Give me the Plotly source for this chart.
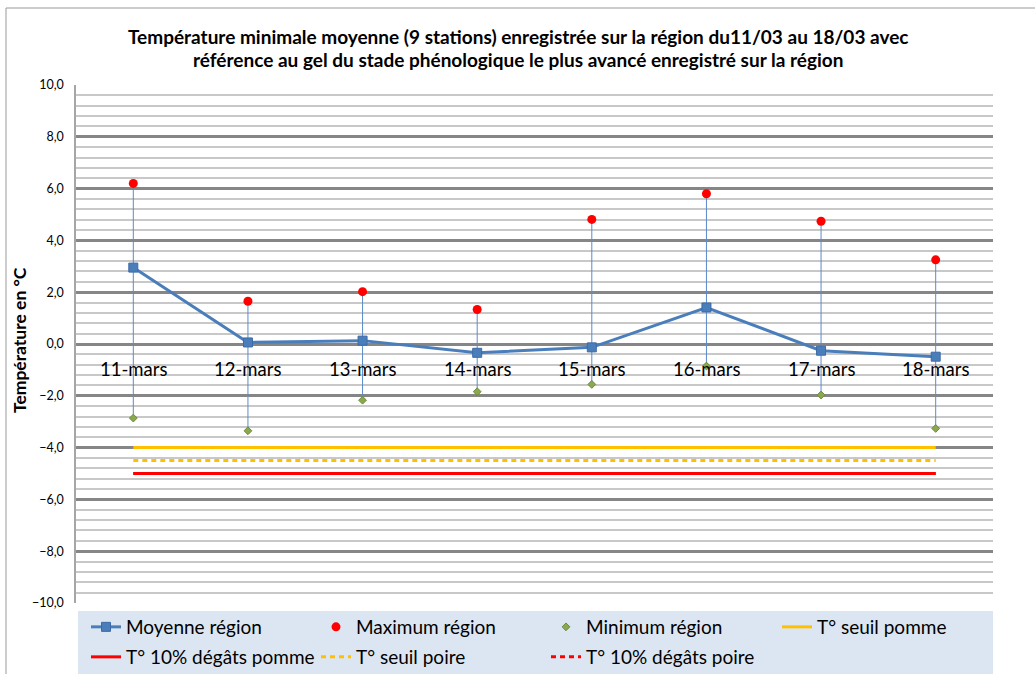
import plotly.graph_objects as go

# ---- data ----
dates = ["11-mars", "12-mars", "13-mars", "14-mars", "15-mars", "16-mars", "17-mars", "18-mars"]
moyenne = [2.95, 0.06, 0.13, -0.34, -0.13, 1.41, -0.26, -0.49]
maximum = [6.2, 1.65, 2.02, 1.33, 4.81, 5.8, 4.74, 3.25]
minimum = [-2.86, -3.35, -2.17, -1.84, -1.56, -0.85, -1.97, -3.26]
seuil_pomme = -4.0
degats_pomme = -5.0
seuil_poire = -4.5
degats_poire = -5.0

title_lines = [
    "Température minimale moyenne (9 stations) enregistrée sur la région du11/03 au 18/03 avec",
    "référence au gel du stade phénologique le plus avancé enregistré sur la région",
]
y_title = "Température en °C"

FONT = "Lato"
W, H = 1035, 674
L, R, T, B = 76, 42, 85, 71
PW, PH = W - L - R, H - T - B


def px_x(p):
    return (p - L) / PW


def px_y(p):
    return (H - B - p) / PH


BLUE = "#4a7ebb"

fig = go.Figure()

err_plus = [mx - m for mx, m in zip(maximum, moyenne)]
err_minus = [m - mn for m, mn in zip(moyenne, minimum)]

fig.add_trace(go.Scatter(
    x=dates, y=moyenne, mode="lines+markers", name="Moyenne région",
    line=dict(color=BLUE, width=3),
    marker=dict(symbol="square", size=9, color=BLUE, line=dict(color="#3c6aa6", width=1)),
    error_y=dict(type="data", symmetric=False, array=err_plus, arrayminus=err_minus,
                 color="#5b8bc8", thickness=1, width=0),
    legend="legend",
))
fig.add_trace(go.Scatter(
    x=dates, y=maximum, mode="markers", name="Maximum région",
    marker=dict(symbol="circle", size=9, color="#ff0000"),
    legend="legend",
))
fig.add_trace(go.Scatter(
    x=dates, y=minimum, mode="markers", name="Minimum région",
    marker=dict(symbol="diamond", size=6, color="#8aa84e", line=dict(color="#6f8a3a", width=1)),
    legend="legend",
))

ends = [dates[0], dates[-1]]
fig.add_trace(go.Scatter(
    x=ends, y=[seuil_pomme] * 2, mode="lines", name="T° seuil pomme",
    line=dict(color="#ffc000", width=3), legend="legend3",
))
fig.add_trace(go.Scatter(
    x=ends, y=[degats_pomme] * 2, mode="lines", name="T° 10% dégâts pomme",
    line=dict(color="#ff0000", width=3), legend="legend2",
))
fig.add_trace(go.Scatter(
    x=ends, y=[seuil_poire] * 2, mode="lines", name="T° seuil poire",
    line=dict(color="#ffc000", width=3, dash="5px,4px"), legend="legend2",
))
fig.add_trace(go.Scatter(
    x=ends, y=[degats_poire] * 2, mode="lines", name="T° 10% dégâts poire",
    line=dict(color="#ff0000", width=3, dash="5px,4px"), legend="legend2",
))

# category labels placed next to the zero line (Excel style)
for d in dates:
    fig.add_annotation(x=d, y=0, xref="x", yref="y", text=d, showarrow=False,
                       xanchor="center", yanchor="middle", yshift=-25,
                       font=dict(family=FONT, size=18.5, color="#000000"))

# y axis title
fig.add_annotation(x=px_x(19), y=px_y(340), xref="paper", yref="paper", text="<b>" + y_title + "</b>",
                   textangle=-90, showarrow=False, xanchor="center", yanchor="middle",
                   font=dict(family=FONT, size=17.5, color="#000000"))

# chart title (two lines)
for line_txt, yc in zip(title_lines, [37, 59]):
    fig.add_annotation(x=px_x(517.5), y=px_y(yc), xref="paper", yref="paper",
                       text="<b>" + line_txt + "</b>", showarrow=False,
                       xanchor="center", yanchor="middle",
                       font=dict(family=FONT, size=19, color="#000000"))

legend_common = dict(orientation="h", xref="paper", yref="paper", xanchor="left", yanchor="middle",
                     entrywidth=185, entrywidthmode="pixels", bgcolor="rgba(0,0,0,0)",
                     font=dict(family=FONT, size=19, color="#000000"), traceorder="normal",
                     itemclick=False, itemdoubleclick=False)

fig.update_layout(
    width=W, height=H,
    margin=dict(l=L, r=R, t=T, b=B, autoexpand=False),
    paper_bgcolor="white", plot_bgcolor="white",
    separators=", ",
    font=dict(family=FONT, color="#000000"),
    xaxis=dict(type="category", categoryarray=dates, range=[-0.5, len(dates) - 0.5],
               showticklabels=False, showgrid=False, zeroline=False, showline=False, ticks=""),
    yaxis=dict(range=[-10, 10], dtick=2, tick0=-10, tickformat=".1f", showgrid=True,
               gridcolor="#868686", gridwidth=2.5, zeroline=False, showline=True,
               linecolor="#a6a6a6", linewidth=1.5, ticks="", ticklabelstandoff=8,
               tickfont=dict(family=FONT, size=12.5, color="#000000"),
               minor=dict(dtick=0.4, tick0=-10, showgrid=True, gridcolor="#c8c8c8", gridwidth=1.5)),
    yaxis2=dict(range=[-10, 10], dtick=2, tick0=-10, tickformat=".1f", overlaying="y", side="right",
                showgrid=False, zeroline=False, showline=True, linecolor="#a6a6a6", linewidth=1.5,
                ticks="outside", ticklen=5, tickcolor="#a6a6a6", ticklabelstandoff=9,
                tickfont=dict(family=FONT, size=12.5, color="#000000")),
    legend=dict(x=px_x(86), y=px_y(627), **legend_common),
    legend2=dict(x=px_x(86), y=px_y(657), **legend_common),
    legend3=dict(x=px_x(777), y=px_y(627), **legend_common),
    shapes=[
        dict(type="rect", xref="paper", yref="paper", x0=px_x(78), x1=px_x(993),
             y0=px_y(700), y1=px_y(611), fillcolor="#dce6f2", line=dict(width=0), layer="below"),
        dict(type="rect", xref="paper", yref="paper", x0=px_x(6), x1=px_x(1060),
             y0=px_y(700), y1=px_y(8), fillcolor="rgba(0,0,0,0)", line=dict(color="#9a9a9a", width=1),
             layer="below"),
    ],
    showlegend=True,
)

fig.write_html("out.html", config={"displayModeBar": False},
               post_script="document.body.style.margin='0px';document.body.style.padding='0px';")
